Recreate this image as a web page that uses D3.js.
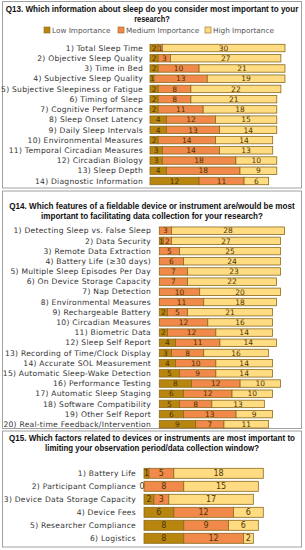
<!DOCTYPE html>
<html>
<head>
<meta charset="utf-8">
<script src="https://cdn.jsdelivr.net/npm/d3@7"></script>
<style>
  body { margin: 0; padding: 0; background: #fff; }
</style>
</head>
<body>
<div id="chart"></div>
<script>
const width = 305;
const height = 550;

// Q13 data
const q13Labels = ["1) Total Sleep Time", "2) Objective Sleep Quality", "3) Time in Bed", "4) Subjective Sleep Quality",
  "5) Subjective Sleepiness or Fatigue", "6) Timing of Sleep", "7) Cognitive Performance", "8) Sleep Onset Latency",
  "9) Daily Sleep Intervals", "10) Environmental Measures", "11) Temporal Circadian Measures", "12) Circadian Biology",
  "13) Sleep Depth", "14) Diagnostic Information"];
const q13Low = [2, 2, 2, 1, 2, 2, 2, 4, 4, 2, 3, 3, 4, 12];
const q13Medium = [1, 3, 10, 13, 8, 8, 11, 12, 13, 14, 14, 18, 18, 11];
const q13High = [30, 27, 21, 19, 22, 21, 18, 15, 14, 14, 13, 10, 9, 6];

// Q14 data
const q14Labels = ["1) Detecting Sleep vs. False Sleep", "2) Data Security", "3) Remote Data Extraction", "4) Battery Life (\u226530 days)",
  "5) Multiple Sleep Episodes Per Day", "6) On Device Storage Capacity", "7) Nap Detection", "8) Environmental Measures",
  "9) Rechargeable Battery", "10) Circadian Measures", "11) Biometric Data", "12) Sleep Self Report",
  "13) Recording of Time/Clock Display", "14) Accurate SOL Measurement", "15) Automatic Sleep-Wake Detection", "16) Performance Testing",
  "17) Automatic Sleep Staging", "18) Software Compatibility", "19) Other Self Report", "20) Real-time Feedback/Intervention"];
const q14Low = [0, 1, 0, 0, 0, 0, 0, 0, 2, 0, 2, 4, 3, 4, 5, 8, 6, 5, 6, 9];
const q14Medium = [3, 2, 5, 6, 7, 7, 10, 11, 5, 12, 12, 11, 8, 10, 9, 12, 12, 8, 13, 7];
const q14High = [28, 27, 25, 24, 23, 22, 20, 18, 21, 16, 14, 14, 16, 14, 14, 10, 10, 13, 9, 11];

// Q15 data
const q15Labels = ["1) Battery Life", "2) Participant Compliance", "3) Device Data Storage Capacity", "4) Device Fees",
  "5) Researcher Compliance", "6) Logistics"];
const q15Low = [1, 0, 2, 6, 8, 8];
const q15Medium = [5, 8, 3, 12, 9, 12];
const q15High = [18, 15, 17, 6, 6, 2];

const seriesNames = ["Low Importance", "Medium Importance", "High Importance"];
const seriesColors = ["#B8860E", "#F0894A", "#FFDC82"];

const svg = d3.select("#chart")
  .append("svg")
  .attr("width", width)
  .attr("height", height)
  .style("display", "block");

function drawPanel(opt) {
  const g = svg.append("g");

  // panel frame
  g.append("rect")
    .attr("x", 2.5)
    .attr("y", opt.top)
    .attr("width", 299)
    .attr("height", opt.bottom - opt.top)
    .attr("fill", "#fff")
    .attr("stroke", "#a0a0a0")
    .attr("stroke-width", 1);

  // title - squeezed horizontally like the narrow bold font of the original
  opt.title.forEach(function (t, i) {
    const txt = g.append("text")
      .attr("x", 0)
      .attr("y", 0)
      .attr("text-anchor", "middle")
      .style("font-family", "Liberation Sans, Arial, sans-serif")
      .style("font-weight", "bold")
      .style("font-size", "9.6px")
      .style("fill", "#111")
      .text(t);
    const natural = txt.node().getComputedTextLength();
    const sx = opt.titleW[i] ? opt.titleW[i] / natural : 0.78;
    txt.attr("transform", "translate(152," + (opt.titleY + i * 10) + ") scale(" + sx + ",1)");
  });

  const rows = opt.labels.map(function (d, i) {
    return { label: d, values: [opt.low[i], opt.medium[i], opt.high[i]] };
  });
  const maxTotal = d3.max(rows, (d) => d3.sum(d.values));

  const x = d3.scaleLinear()
    .domain([0, maxTotal])
    .range([opt.barX, opt.barX + maxTotal * opt.unit]);

  const y = d3.scaleBand()
    .domain(opt.labels)
    .range([opt.rowTop, opt.rowBottom])
    .paddingInner(opt.pad)
    .paddingOuter(opt.pad / 2);

  // category labels
  g.selectAll(".cat")
    .data(rows)
    .enter()
    .append("text")
    .attr("x", opt.labelX)
    .attr("y", (d) => y(d.label) + y.bandwidth() / 2)
    .attr("dy", "0.35em")
    .attr("text-anchor", "end")
    .style("font-family", "DejaVu Sans, sans-serif")
    .style("font-size", "7.6px")
    .style("letter-spacing", "0.25px")
    .style("fill", "#333")
    .text((d) => d.label);

  // stacked segments
  const segs = [];
  rows.forEach(function (r) {
    let acc = 0;
    r.values.forEach(function (v, k) {
      segs.push({ label: r.label, k: k, v: v, x0: acc, x1: acc + v });
      acc += v;
    });
  });

  g.selectAll(".seg")
    .data(segs.filter((d) => d.v > 0))
    .enter()
    .append("rect")
    .attr("x", (d) => x(d.x0))
    .attr("y", (d) => y(d.label))
    .attr("width", (d) => x(d.x1) - x(d.x0))
    .attr("height", y.bandwidth())
    .attr("fill", (d) => seriesColors[d.k])
    .attr("stroke", "#8a6a1c")
    .attr("stroke-width", 0.8);

  g.selectAll(".val")
    .data(segs.filter((d) => d.v > 0 || (opt.showZero && d.k === 0)))
    .enter()
    .append("text")
    .attr("x", (d) => (d.v === 0 ? x(d.x0) - 2 : (x(d.x0) + x(d.x1)) / 2))
    .attr("y", (d) => y(d.label) + y.bandwidth() / 2)
    .attr("dy", "0.36em")
    .attr("text-anchor", "middle")
    .style("font-family", "DejaVu Sans, sans-serif")
    .style("font-size", opt.valSize)
    .style("fill", "#4e3405")
    .text((d) => d.v);

  // legend
  if (opt.legend) {
    const lx = [44, 118, 205];
    seriesNames.forEach(function (name, k) {
      g.append("rect")
        .attr("x", lx[k])
        .attr("y", opt.legendY - 3)
        .attr("width", 6)
        .attr("height", 6)
        .attr("fill", seriesColors[k])
        .attr("stroke", "#8a6a1c")
        .attr("stroke-width", 0.6);
      g.append("text")
        .attr("x", lx[k] + 8)
        .attr("y", opt.legendY)
        .attr("dy", "0.35em")
        .style("font-family", "DejaVu Sans, sans-serif")
        .style("font-size", "7.3px")
        .style("fill", "#555")
        .text(name);
    });
  }
}

drawPanel({
  top: 1.5, bottom: 188,
  title: ["Q13. Which information about sleep do you consider most important to your", "research?"],
  titleW: [293, null],
  titleY: 11.5,
  legend: true, legendY: 30,
  labels: q13Labels, low: q13Low, medium: q13Medium, high: q13High,
  barX: 150, unit: 4.09, labelX: 143,
  rowTop: 42.9, rowBottom: 186.1, pad: 0.27, valSize: "7.5px", showZero: false
});

drawPanel({
  top: 191, bottom: 428.5,
  title: ["Q14. Which features of a fieldable device or instrument are/would be most", "important to facilitating data collection for your research?"],
  titleW: [286, 222],
  titleY: 208.5,
  legend: false,
  labels: q14Labels, low: q14Low, medium: q14Medium, high: q14High,
  barX: 159.3, unit: 4.04, labelX: 151,
  rowTop: 225.6, rowBottom: 429.4, pad: 0.27, valSize: "7.5px", showZero: false
});

drawPanel({
  top: 431, bottom: 547,
  title: ["Q15. Which factors related to devices or instruments are most important to", "limiting your observation period/data collection window?"],
  titleW: [286, 214],
  titleY: 441,
  legend: false,
  labels: q15Labels, low: q15Low, medium: q15Medium, high: q15High,
  barX: 144, unit: 4.97, labelX: 136,
  rowTop: 466.8, rowBottom: 544.8, pad: 0.23, valSize: "8px", showZero: true
});
</script>
</body>
</html>
